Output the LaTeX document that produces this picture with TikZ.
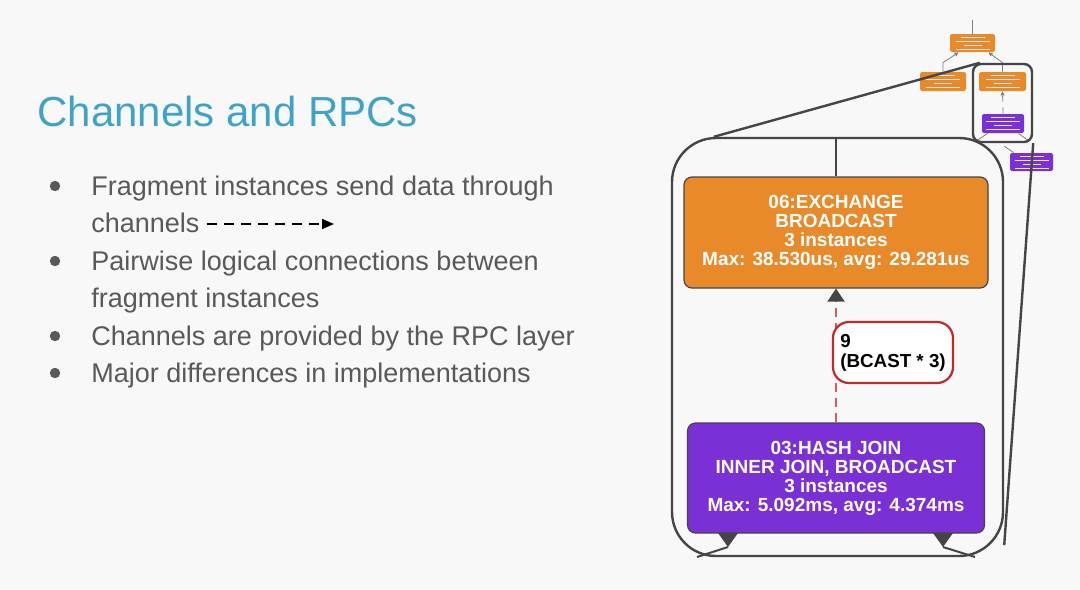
\documentclass[tikz,border=0pt]{standalone}
\usepackage{fontspec}
\setmainfont{Liberation Sans}
\usetikzlibrary{arrows.meta, positioning}

\definecolor{slidebg}{HTML}{F8F8F8}
\definecolor{titleblue}{HTML}{3FA3C9}
\definecolor{bodygray}{HTML}{595959}
\definecolor{exchorange}{HTML}{E98A2A}
\definecolor{joinpurple}{HTML}{7B30D5}
\definecolor{framegray}{HTML}{454545}
\definecolor{cntred}{HTML}{C62828}
\definecolor{dashred}{HTML}{DC5A55}

\begin{document}
\begin{tikzpicture}[x=0.5pt, y=-0.5pt,
    bullettext/.style={anchor=base west, inner sep=0pt, text=bodygray,
        font=\fontsize{13.5}{16}\selectfont},
    opbox/.style={rectangle, rounded corners=4pt, draw=framegray, line width=0.6pt,
        text=white, align=center, inner sep=0pt,
        font=\fontsize{9.5}{9.5}\selectfont\bfseries},
    tinyop/.style={rectangle, rounded corners=0.8pt, inner sep=0pt},
    zoomframe/.style={rectangle, draw=framegray, line width=1.2pt, inner sep=0pt},
    zoomline/.style={draw=framegray, line width=1.2pt},
    tinyedge/.style={draw=gray, line width=0.4pt},
    chanline/.style={dashred, line width=1pt, dash pattern=on 4.5pt off 3pt,
        -{Triangle[length=6.5pt, width=8.5pt, color=framegray]}}
]
    \useasboundingbox (0,0) rectangle (1080,589);
    \fill[slidebg] (0,0) rectangle (1080,589);

    % Title and bullets
    \node[anchor=base west, inner sep=0pt, text=titleblue,
          font=\fontsize{21}{21}\selectfont] (title) at (37,126) {Channels and RPCs};

    \node[bullettext] (b1) at (91,195) {Fragment instances send data through};
    \node[bullettext] (b2) at (91,232) {channels};
    \node[bullettext] (b3) at (91,270) {Pairwise logical connections between};
    \node[bullettext] (b4) at (91,307) {fragment instances};
    \node[bullettext] (b5) at (91,345) {Channels are provided by the RPC layer};
    \node[bullettext] (b6) at (91,382) {Major differences in implementations};
    \foreach \y in {186,261,336,373}
        \fill[bodygray] (55,\y) circle (2.6pt);

    \coordinate (chanend) at (334,224);
    \draw[black, line width=0.75pt, dash pattern=on 5pt off 3.5pt,
          -{Triangle[length=6pt, width=5pt]}] (b2.east |- chanend) ++(7,0) -- (chanend);

    % Small plan (top right)
    \node[tinyop, fill=exchorange, minimum width=22.5pt, minimum height=9pt] (ttop) at (972.5,43) {};
    \node[tinyop, fill=exchorange, minimum width=23pt, minimum height=9.5pt] (tleft) at (943,81.5) {};
    \node[tinyop, fill=exchorange, minimum width=23.5pt, minimum height=9.5pt] (tright) at (1002.5,81.5) {};
    \node[tinyop, fill=joinpurple, minimum width=21pt, minimum height=9.5pt] (tjoin) at (1003,123.5) {};
    \node[tinyop, fill=joinpurple, minimum width=21.5pt, minimum height=9pt] (tout) at (1031.5,162) {};
    \foreach \n in {ttop,tleft,tright,tjoin,tout}
        \foreach \dy/\hw in {3/6, 1/8.5, -1/4.5, -3/8.5}
            \draw[white!80!gray, line width=0.45pt]
                ([xshift=-\hw pt, yshift=\dy pt]\n.center) -- ([xshift=\hw pt, yshift=\dy pt]\n.center);

    \coordinate (tparent) at (972.5,20);
    \coordinate (tjoinL) at (976,141);
    \coordinate (tjoinR) at (1029,141);
    \coordinate (toutin) at (1004,146);
    \draw[tinyedge] (ttop.north) -- (tparent);
    \draw[tinyedge, -{Triangle[length=2pt, width=2pt]}] (tleft.north) -- ++(0,-9) -- ([xshift=-7pt]ttop.south);
    \draw[tinyedge, -{Triangle[length=2pt, width=2pt]}] (tright.north) -- ++(0,-9) -- ([xshift=8pt]ttop.south);
    \draw[tinyedge, dashed, -{Triangle[length=2pt, width=2pt]}] (tjoin.north) -- (tright.south);
    \draw[tinyedge] ([xshift=3pt]tjoin.south west) -- (tjoinL);
    \draw[tinyedge] ([xshift=-3pt]tjoin.south east) -- (tjoinR);
    \draw[tinyedge] ([xshift=2pt]tout.north west) -- (toutin);

    % Zoomed region
    \node[zoomframe, rounded corners=4pt, minimum width=29.5pt, minimum height=39pt] (smallframe) at (1002.5,103) {};
    \node[zoomframe, rounded corners=22pt, minimum width=165.5pt, minimum height=209pt] (bigframe) at (837.5,347) {};
    \coordinate (zoomA) at ([xshift=21.5pt]bigframe.north west);
    \coordinate (zoomB) at ([xshift=4pt]smallframe.north west);
    \coordinate (zoomC) at ([yshift=6pt]bigframe.south east);
    \draw[zoomline] (zoomA) -- (zoomB);
    \draw[zoomline] (smallframe.south east) -- (zoomC);

    \node[opbox, fill=exchorange, minimum width=152pt, minimum height=55.5pt] (exch) at (836,232.5)
        {06:EXCHANGE\\BROADCAST\\3 instances\\Max: 38.530us, avg: 29.281us};
    \node[opbox, fill=joinpurple, minimum width=148.5pt, minimum height=55pt] (join) at (836,478)
        {03:HASH JOIN\\INNER JOIN, BROADCAST\\3 instances\\Max: 5.092ms, avg: 4.374ms};

    \draw[framegray, line width=1pt] (exch.north) -- (exch.north |- bigframe.north);
    \draw[chanline] (join.north) -- (exch.south);
    \node[rectangle, rounded corners=8pt, draw=cntred, line width=1.1pt, fill=white,
          minimum width=60pt, minimum height=30.5pt, align=left, inner sep=0pt,
          font=\fontsize{9.4}{10}\selectfont\bfseries] (cnt) at (893,352.5) {9\\(BCAST * 3)};

    % incoming edges at the bottom
    \coordinate (inL) at (697,557);
    \coordinate (tipL) at (728,547);
    \coordinate (inR) at (975,557);
    \coordinate (tipR) at (943,547);
    \draw[framegray, line width=1pt] (inL) -- (tipL);
    \draw[framegray, line width=1pt] (inR) -- (tipR);
    \fill[framegray] (tipL) -- ++(-10,-14) -- ++(20,0) -- cycle;
    \fill[framegray] (tipR) -- ++(-10,-14) -- ++(20,0) -- cycle;
\end{tikzpicture}
\end{document}
